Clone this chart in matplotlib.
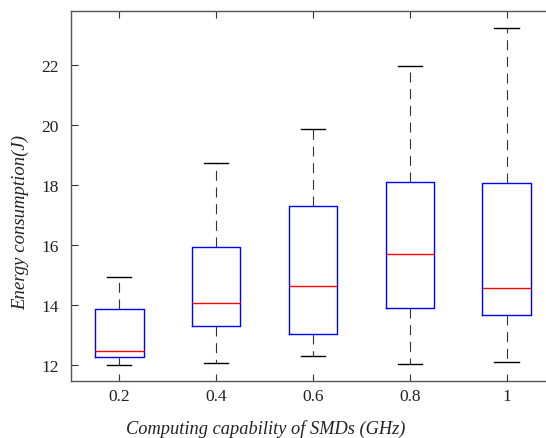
import matplotlib
matplotlib.use("Agg")
import matplotlib.pyplot as plt

# box statistics
labels = ["0.2", "0.4", "0.6", "0.8", "1"]
whislo = [12.00, 12.06, 12.32, 12.03, 12.10]
q1 = [12.26, 13.31, 13.04, 13.89, 13.67]
med = [12.46, 14.07, 14.64, 15.71, 14.56]
q3 = [13.86, 15.92, 17.29, 18.11, 18.07]
whishi = [14.92, 18.73, 19.87, 21.98, 23.23]

plt.rcParams["font.family"] = ["Liberation Serif", "DejaVu Serif"]

stats = []
for i in range(len(labels)):
    stats.append({
        "label": labels[i], "whislo": whislo[i], "q1": q1[i], "med": med[i],
        "q3": q3[i], "whishi": whishi[i], "fliers": [],
    })

fig = plt.figure(figsize=(5.46, 4.39), dpi=100)
ax = fig.add_axes([0.130, 0.1298, 0.8864, 0.8428])

ax.bxp(
    stats,
    positions=range(1, len(labels) + 1),
    widths=0.5,
    showfliers=False,
    boxprops=dict(color="#0000ff", linewidth=1.0),
    medianprops=dict(color="#ff0000", linewidth=1.0),
    whiskerprops=dict(color="#333333", linewidth=0.8, linestyle=(0, (9, 6))),
    capprops=dict(color="black", linewidth=1.0),
)

ax.set_xlim(0.5, 5.5)
ax.set_ylim(11.47, 23.8)
ax.set_yticks([12, 14, 16, 18, 20, 22])
ax.set_xticks(range(1, len(labels) + 1))
ax.set_xticklabels(labels)

for s in ax.spines.values():
    s.set_color("#555555")
    s.set_linewidth(1.0)
ax.tick_params(direction="in", top=True, right=True, length=5,
               color="#333333", labelsize=12.5, labelcolor="#222222")
ax.tick_params(axis="x", pad=5)
ax.tick_params(axis="y", pad=9)

ax.set_xlabel("Computing capability of SMDs (GHz)", fontsize=13.2,
              style="italic", color="#222222")
ax.set_ylabel("Energy consumption(J)", fontsize=13.5,
              style="italic", color="#222222")
ax.xaxis.set_label_coords(0.403, -0.102)
ax.yaxis.set_label_coords(-0.086, 0.432)

fig.savefig("out.png", dpi=100)
